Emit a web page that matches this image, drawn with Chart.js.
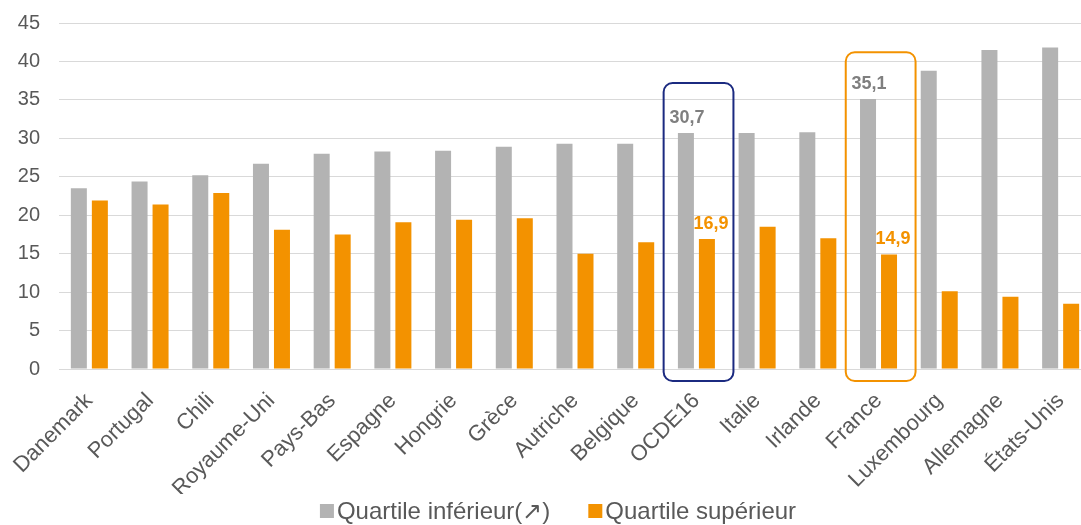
<!DOCTYPE html>
<html>
<head>
<meta charset="utf-8">
<script src="https://cdn.jsdelivr.net/npm/chart.js@4.4.1/dist/chart.umd.min.js"></script>
<style>
html,body{margin:0;padding:0;background:#fff;overflow:hidden;}
#wrap{width:1081px;height:525px;overflow:hidden;}
</style>
</head>
<body>
<div id="wrap"><canvas id="c" width="1091" height="525"></canvas></div>
<script>
const categories = ['Danemark','Portugal','Chili','Royaume-Uni','Pays-Bas','Espagne','Hongrie','Grèce','Autriche','Belgique','OCDE16','Italie','Irlande','France','Luxembourg','Allemagne','États-Unis'];
const lowerQuartile = [23.5,24.4,25.2,26.7,28.0,28.3,28.4,28.9,29.3,29.3,30.7,30.7,30.8,35.1,38.8,41.5,41.8];
const upperQuartile = [21.9,21.4,22.9,18.1,17.5,19.1,19.4,19.6,15.0,16.5,16.9,18.5,17.0,14.9,10.1,9.4,8.5];
const seriesNames = ['Quartile inférieur(↗)','Quartile supérieur'];
const yTicks = [0,5,10,15,20,25,30,35,40,45];
const highlighted = ['OCDE16','France'];
const boxTops = [37.2,41.2];

const COLORS = ['#b3b3b3','#f39200'];
const LABEL_COLORS = ['#7f7f7f','#f39200'];
const BOX_COLORS = ['#1b2a80','#f39200'];
const FONT = "'Liberation Sans', Arial, sans-serif";

const annotate = {
  id:'annotate',
  afterDatasetsDraw(chart){
    const ctx = chart.ctx, xs = chart.scales.x, ys = chart.scales.y;
    const w = xs.width / categories.length;
    ctx.save();
    highlighted.forEach((cat,k)=>{
      const i = categories.indexOf(cat);
      const c = xs.getPixelForValue(i);
      const left = c - 0.54*w, right = c + 0.61*w;
      const top = ys.getPixelForValue(boxTops[k]);
      const bottom = ys.getPixelForValue(0) + 12;
      ctx.beginPath();
      ctx.lineWidth = 2;
      ctx.strokeStyle = BOX_COLORS[k];
      ctx.roundRect(left, top, right-left, bottom-top, 9);
      ctx.stroke();
      chart.data.datasets.forEach((ds,d)=>{
        const el = chart.getDatasetMeta(d).data[i];
        const v = ds.data[i];
        ctx.font = "bold 18px " + FONT;
        ctx.fillStyle = LABEL_COLORS[d];
        ctx.textAlign = 'center';
        ctx.textBaseline = 'middle';
        ctx.fillText(v.toFixed(1).replace('.',','), el.x + (d===1?4:1), el.y - 15);
      });
    });
    ctx.restore();
  },
  afterDraw(chart){
    const ctx = chart.ctx;
    ctx.save();
    ctx.font = "24px " + FONT;
    const box = 14, gap = 3, itemGap = 38;
    const widths = seriesNames.map(t=>ctx.measureText(t).width);
    const total = box*2 + gap*2 + widths[0] + widths[1] + itemGap;
    let x = 558 - total/2;
    const base = 519;
    seriesNames.forEach((t,d)=>{
      ctx.fillStyle = COLORS[d];
      ctx.fillRect(x, 504, box, box);
      x += box + gap;
      ctx.fillStyle = '#595959';
      ctx.textAlign = 'left';
      ctx.textBaseline = 'alphabetic';
      ctx.fillText(t, x, base);
      x += widths[d] + itemGap;
    });
    ctx.restore();
  }
};

new Chart(document.getElementById('c'), {
  type:'bar',
  data:{
    labels: categories,
    datasets:[
      {label: seriesNames[0], data: lowerQuartile, backgroundColor: COLORS[0], categoryPercentage:0.692, barPercentage:0.762},
      {label: seriesNames[1], data: upperQuartile, backgroundColor: COLORS[1], categoryPercentage:0.692, barPercentage:0.762}
    ]
  },
  options:{
    responsive:false,
    devicePixelRatio:1,
    animation:false,
    layout:{padding:{left:17,right:0,top:23,bottom:31}},
    plugins:{legend:{display:false},tooltip:{enabled:false}},
    scales:{
      x:{
        grid:{display:false, drawTicks:false},
        border:{display:false},
        ticks:{color:'#595959', font:{family:FONT,size:22}, minRotation:45, maxRotation:45, padding:19, autoSkip:false},
        afterFit(scale){ scale.paddingLeft = 0; scale.paddingRight = 0; scale.height = 125; }
      },
      y:{
        min:0, max:45,
        afterBuildTicks(scale){ scale.ticks = yTicks.map(v=>({value:v})); },
        grid:{color:'#d9d9d9', lineWidth:1, drawTicks:false},
        border:{display:false},
        ticks:{color:'#595959', font:{family:FONT,size:20}, padding:19},
        afterFit(scale){ scale.width = 42; scale.paddingTop = 0; scale.paddingBottom = 0; }
      }
    }
  },
  plugins:[annotate]
});
</script>
</body>
</html>
